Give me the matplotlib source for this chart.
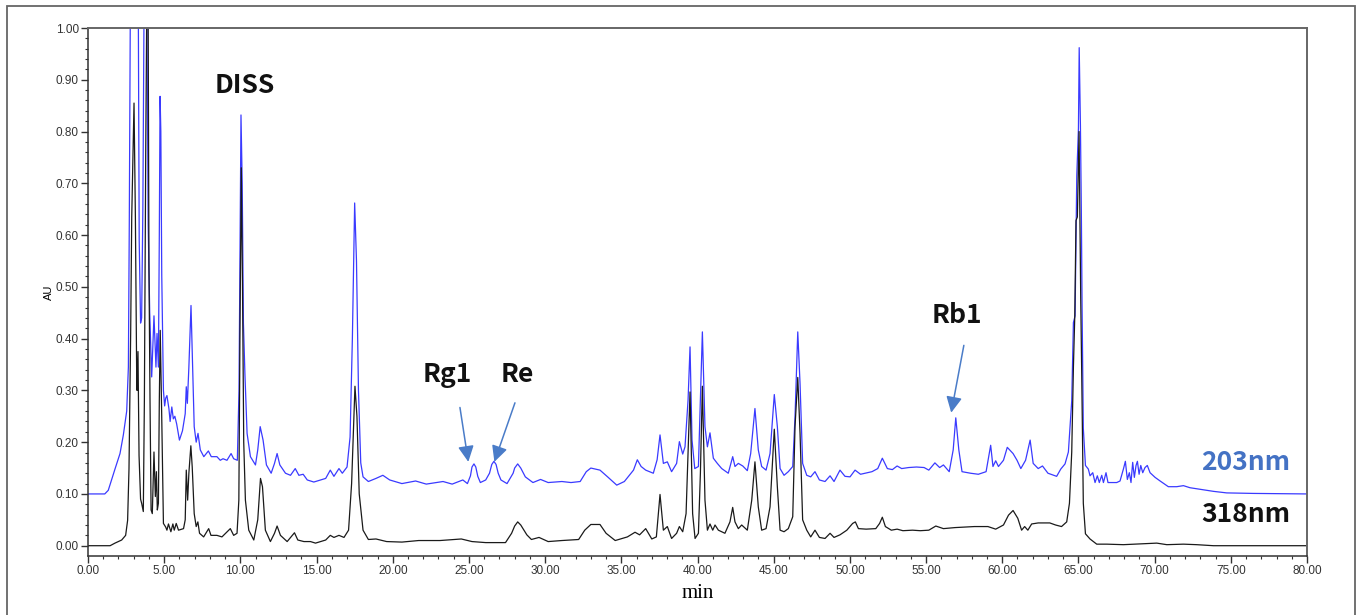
import matplotlib
matplotlib.use("Agg")
import matplotlib.pyplot as plt
from matplotlib.patches import Rectangle
from matplotlib.ticker import MultipleLocator, FormatStrFormatter

# 203 nm trace (blue)
t_203 = [0.0, 1.1, 1.33, 1.77, 2.10, 2.32, 2.54, 2.65, 2.71, 2.78, 3.30, 3.36, 3.45, 3.52, 3.60,
         3.68, 3.86, 3.95, 4.05, 4.18, 4.33, 4.46, 4.53, 4.62, 4.68, 4.73, 4.78, 4.84, 4.95, 5.03,
         5.10, 5.18, 5.31, 5.39, 5.50, 5.60, 5.70, 5.82, 6.00, 6.20, 6.38, 6.45, 6.52, 6.62, 6.76,
         6.87, 6.97, 7.10, 7.22, 7.37, 7.60, 7.90, 8.09, 8.46, 8.68, 8.86, 9.12, 9.39, 9.56, 9.80,
         9.91, 9.97, 10.04, 10.12, 10.20, 10.30, 10.44, 10.66, 10.99, 11.14, 11.30, 11.49, 11.71,
         12.02, 12.24, 12.41, 12.59, 12.96, 13.29, 13.60, 13.84, 14.12, 14.39, 14.82, 15.26, 15.60,
         15.90, 16.14, 16.47, 16.69, 17.00, 17.20, 17.35, 17.50, 17.62, 17.75, 17.90, 18.05, 18.40,
         18.90, 19.35, 19.80, 20.60, 21.50, 22.20, 23.30, 23.90, 24.60, 24.90, 25.10, 25.20, 25.33,
         25.45, 25.58, 25.75, 26.10, 26.35, 26.50, 26.64, 26.78, 26.92, 27.10, 27.50, 27.90, 28.00,
         28.20, 28.40, 28.70, 29.20, 29.70, 30.20, 31.10, 31.70, 32.30, 32.70,
         33.00, 33.60, 34.10, 34.70, 35.20, 35.80, 36.05, 36.30, 36.60, 37.10, 37.35, 37.54, 37.76,
         38.02, 38.30, 38.63, 38.81, 39.03, 39.18, 39.38, 39.51, 39.64, 39.82, 40.06, 40.19, 40.32,
         40.49, 40.65, 40.82, 41.04, 41.30, 41.59, 42.02, 42.31, 42.46, 42.68, 42.97, 43.27, 43.49,
         43.77, 43.99, 44.21, 44.50, 44.76, 45.04, 45.24, 45.42, 45.68, 45.96, 46.25, 46.40, 46.58,
         46.73, 46.90, 47.17, 47.43, 47.71, 48.00, 48.37, 48.70, 48.96, 49.35, 49.68, 50.01, 50.34,
         50.70, 51.45, 51.83, 52.13, 52.46, 52.79, 53.10, 53.40, 53.86, 54.37, 54.87, 55.18, 55.58,
         55.89, 56.14, 56.52, 56.78, 56.95, 57.15, 57.36, 57.92, 58.43, 58.94, 59.11, 59.24, 59.39,
         59.57, 59.75, 60.08, 60.33, 60.71, 60.97, 61.22, 61.53, 61.83, 62.03, 62.36, 62.64, 63.00,
         63.57, 63.84, 64.12, 64.34, 64.56, 64.67, 64.78, 64.89, 65.00, 65.05, 65.13, 65.19, 65.24,
         65.32, 65.46, 65.65, 65.76, 65.94, 66.09, 66.24, 66.37, 66.53, 66.64, 66.81, 66.94, 67.18,
         67.51, 67.73, 67.95, 68.08, 68.21, 68.34, 68.45, 68.56, 68.67, 68.78, 68.87, 68.98, 69.09,
         69.22, 69.37, 69.52, 69.70, 70.03, 70.36, 70.90, 71.45, 71.89, 72.32, 72.98, 73.86, 74.73,
         76.48, 80.00]
au_203 = [0.100, 0.100, 0.107, 0.148, 0.178, 0.214, 0.260, 0.345, 0.625, 1.05, 1.05, 0.59, 0.43,
          0.44, 0.65, 1.05, 1.05, 0.62, 0.45, 0.326, 0.444, 0.345, 0.41, 0.345, 0.60, 0.868, 0.80,
          0.523, 0.30, 0.27, 0.285, 0.29, 0.265, 0.24, 0.268, 0.245, 0.25, 0.235, 0.204, 0.222,
          0.255, 0.307, 0.275, 0.345, 0.464, 0.345, 0.23, 0.20, 0.217, 0.185, 0.172, 0.183, 0.172,
          0.172, 0.165, 0.168, 0.165, 0.178, 0.168, 0.165, 0.30, 0.55, 0.832, 0.70, 0.43, 0.33,
          0.217, 0.172, 0.156, 0.185, 0.23, 0.204, 0.156, 0.14, 0.159, 0.178, 0.156, 0.14, 0.136,
          0.149, 0.136, 0.138, 0.127, 0.123, 0.127, 0.13, 0.146, 0.134, 0.149, 0.14, 0.152, 0.21,
          0.40, 0.662, 0.55, 0.30, 0.16, 0.133, 0.124, 0.13, 0.136, 0.127, 0.12, 0.125, 0.119,
          0.124, 0.119, 0.127, 0.12, 0.135, 0.152, 0.158, 0.152, 0.134, 0.122, 0.127, 0.14, 0.157,
          0.163, 0.157, 0.14, 0.127, 0.12, 0.14, 0.15, 0.158, 0.15, 0.133,
          0.122, 0.128, 0.122, 0.124, 0.122, 0.124, 0.143, 0.15, 0.146, 0.133, 0.117, 0.124, 0.146,
          0.166, 0.153, 0.146, 0.14, 0.166, 0.214, 0.159, 0.162, 0.143, 0.159, 0.201, 0.177, 0.191,
          0.281, 0.384, 0.204, 0.149, 0.153, 0.281, 0.413, 0.23, 0.191, 0.218, 0.169, 0.159, 0.149,
          0.14, 0.172, 0.153, 0.159, 0.154, 0.145, 0.178, 0.265, 0.185, 0.153, 0.146, 0.178, 0.292,
          0.23, 0.149, 0.136, 0.143, 0.153, 0.249, 0.413, 0.313, 0.159, 0.136, 0.133, 0.143, 0.127,
          0.124, 0.135, 0.124, 0.146, 0.134, 0.133, 0.146, 0.138, 0.143, 0.149, 0.169, 0.149, 0.147,
          0.154, 0.149, 0.151, 0.152, 0.151, 0.146, 0.16, 0.151, 0.156, 0.143, 0.185, 0.247, 0.185,
          0.143, 0.14, 0.138, 0.143, 0.172, 0.194, 0.153, 0.164, 0.153, 0.165, 0.19, 0.178, 0.165,
          0.149, 0.165, 0.204, 0.159, 0.149, 0.154, 0.14, 0.134, 0.148, 0.158, 0.181, 0.28, 0.431,
          0.444, 0.714, 0.806, 0.962, 0.813, 0.648, 0.457, 0.227, 0.155, 0.148, 0.135, 0.141, 0.122,
          0.135, 0.122, 0.136, 0.122, 0.141, 0.122, 0.122, 0.122, 0.125, 0.148, 0.163, 0.128, 0.141,
          0.122, 0.161, 0.132, 0.155, 0.163, 0.138, 0.155, 0.141, 0.151, 0.155, 0.141, 0.132, 0.125,
          0.114, 0.114, 0.116, 0.112, 0.109, 0.105, 0.102, 0.101, 0.100]

# 318 nm trace (black)
t_318 = [0.0, 1.45, 1.77, 2.21, 2.47, 2.60, 2.69, 2.80, 2.87, 3.02, 3.11, 3.19, 3.22, 3.28, 3.35,
         3.45, 3.52, 3.63, 3.70, 3.79, 3.87, 3.94, 4.00, 4.07, 4.14, 4.22, 4.33, 4.42, 4.49, 4.55,
         4.62, 4.68, 4.74, 4.84, 4.95, 5.10, 5.18, 5.28, 5.44, 5.57, 5.66, 5.79, 5.94, 6.27, 6.38,
         6.45, 6.54, 6.62, 6.75, 6.84, 6.97, 7.10, 7.21, 7.32, 7.59, 7.92, 8.07, 8.46, 8.79, 9.34,
         9.56, 9.78, 9.90, 9.97, 10.06, 10.14, 10.22, 10.33, 10.55, 10.88, 11.14, 11.32, 11.45,
         11.64, 11.97, 12.24, 12.41, 12.63, 13.07, 13.55, 13.77, 14.17, 14.60, 14.93, 15.26, 15.60,
         15.90, 16.14, 16.47, 16.80, 17.10, 17.30, 17.52, 17.65, 17.80, 18.05, 18.40, 18.90, 19.60,
         20.60, 21.70, 23.10, 24.50, 25.20, 26.10, 27.40, 27.80, 28.00, 28.20, 28.40, 28.80, 29.10,
         29.60, 30.20, 31.10, 32.20, 32.60, 33.00, 33.60, 34.00, 34.60, 35.40, 35.90, 36.20, 36.60,
         37.00, 37.30,
         37.54, 37.76, 38.02, 38.30, 38.63, 38.81, 39.03, 39.25, 39.51, 39.68, 39.84, 40.06, 40.19,
         40.32, 40.49, 40.65, 40.82, 41.00, 41.15, 41.37, 41.80, 42.13, 42.31, 42.46, 42.68, 42.90,
         43.27, 43.56, 43.77, 43.99, 44.21, 44.50, 44.76, 45.04, 45.24, 45.42, 45.68, 45.96, 46.25,
         46.40, 46.58, 46.73, 46.90, 47.17, 47.43, 47.71, 48.00, 48.37, 48.70, 48.96, 49.35, 49.80,
         50.18, 50.36, 50.56, 51.07, 51.70, 51.95, 52.13, 52.33, 52.72, 53.10, 53.48, 54.11, 54.62,
         55.18, 55.64, 56.14, 56.90, 58.17, 59.06, 59.57, 60.08, 60.41, 60.71, 61.02, 61.27, 61.47,
         61.68, 61.93, 62.36, 63.12, 63.50, 63.89, 64.23, 64.41, 64.56, 64.67, 64.76, 64.84, 64.93,
         65.04, 65.10, 65.15, 65.21, 65.32, 65.46, 65.76, 66.20, 66.86, 67.95, 70.14, 70.80, 71.89,
         72.76, 73.86, 80.00]
au_318 = [0.0, 0.0, 0.005, 0.011, 0.02, 0.049, 0.148, 0.41, 0.635, 0.855, 0.635, 0.345, 0.30,
          0.375, 0.174, 0.09, 0.082, 0.066, 0.28, 0.766, 1.1, 1.1, 0.54, 0.28, 0.069, 0.062, 0.181,
          0.095, 0.143, 0.069, 0.082, 0.28, 0.416, 0.247, 0.043, 0.036, 0.030, 0.042, 0.027, 0.042,
          0.030, 0.043, 0.030, 0.033, 0.05, 0.146, 0.088, 0.14, 0.193, 0.152, 0.062, 0.037, 0.046,
          0.024, 0.017, 0.033, 0.02, 0.02, 0.017, 0.033, 0.02, 0.024, 0.088, 0.40, 0.73, 0.50, 0.20,
          0.088, 0.03, 0.011, 0.05, 0.13, 0.114, 0.03, 0.008, 0.024, 0.038, 0.02, 0.008, 0.025,
          0.011, 0.008, 0.008, 0.005, 0.008, 0.011, 0.02, 0.016, 0.02, 0.016, 0.03, 0.12, 0.308,
          0.25, 0.10, 0.03, 0.012, 0.013, 0.008, 0.007, 0.01, 0.01, 0.013, 0.008, 0.006, 0.006,
          0.024, 0.038, 0.046, 0.04, 0.021, 0.012, 0.016, 0.008, 0.01, 0.012, 0.03, 0.041, 0.041,
          0.024, 0.01, 0.017, 0.026, 0.021, 0.033, 0.013, 0.017, 0.099, 0.03, 0.037, 0.014, 0.024,
          0.037, 0.027,
          0.062, 0.297, 0.062, 0.014, 0.024, 0.14, 0.308, 0.088, 0.03, 0.042, 0.03, 0.04, 0.03,
          0.024, 0.046, 0.074, 0.046, 0.033, 0.04, 0.03, 0.088, 0.162, 0.075, 0.03, 0.033, 0.075,
          0.225, 0.114, 0.03, 0.027, 0.033, 0.056, 0.23, 0.325, 0.217, 0.05, 0.03, 0.017, 0.03,
          0.016, 0.014, 0.024, 0.016, 0.021, 0.03, 0.043, 0.046, 0.033, 0.032, 0.033, 0.043, 0.055,
          0.037, 0.03, 0.032, 0.029, 0.03, 0.029, 0.03, 0.038, 0.033, 0.035, 0.037, 0.037, 0.032,
          0.04, 0.059, 0.068, 0.053, 0.03, 0.037, 0.03, 0.042, 0.044, 0.044, 0.04, 0.037, 0.046,
          0.082, 0.181, 0.345, 0.444, 0.628, 0.635, 0.80, 0.62, 0.477, 0.345, 0.082, 0.023, 0.013,
          0.003, 0.003, 0.002, 0.005, 0.002, 0.003, 0.002, 0.0, 0.0]

# peak labels: (text, x, y) and arrows (tail x, tail y, head x, head y)
peak_names = ["DISS", "Rg1", "Re", "Rb1"]
peak_text_x = [10.3, 23.6, 28.15, 57.03]
peak_text_y = [0.874, 0.3166, 0.3166, 0.4305]
arrow_tail = [(24.41, 0.267), (28.02, 0.276), (57.48, 0.387)]
arrow_head = [(24.96, 0.162), (26.67, 0.162), (56.65, 0.257)]

label_font = ["Noto Sans CJK SC", "DejaVu Sans"]

fig = plt.figure(figsize=(13.57, 6.15), dpi=100)
fig.patches.append(Rectangle((7 / 1357, -0.02), 1348 / 1357, 1.02 - 6 / 615,
                             transform=fig.transFigure, fill=False,
                             edgecolor="#666666", lw=1.3))

ax = fig.add_axes([88 / 1357, 1 - 555.7 / 615, 1219 / 1357, (555.7 - 28) / 615])

ax.plot(t_203, au_203, color="#3a3aff", lw=0.9)
ax.plot(t_318, au_318, color="#1a1a1a", lw=0.9)

ax.set_xlim(0, 80)
ax.set_ylim(-0.0193, 1.0)

ax.xaxis.set_major_locator(MultipleLocator(5))
ax.xaxis.set_minor_locator(MultipleLocator(1))
ax.yaxis.set_major_locator(MultipleLocator(0.1))
ax.yaxis.set_minor_locator(MultipleLocator(0.02))
ax.xaxis.set_major_formatter(FormatStrFormatter("%.2f"))
ax.yaxis.set_major_formatter(FormatStrFormatter("%.2f"))
ax.tick_params(which="major", length=5, width=1, color="#333333", labelsize=8.5,
               labelcolor="#333333", pad=1.5)
ax.tick_params(which="minor", length=2.5, width=0.8, color="#333333")
for lab in ax.get_xticklabels() + ax.get_yticklabels():
    lab.set_family("Liberation Sans")

for side in ["left", "bottom"]:
    ax.spines[side].set_color("#333333")
    ax.spines[side].set_linewidth(1.1)
for side in ["top", "right"]:
    ax.spines[side].set_color("#666666")
    ax.spines[side].set_linewidth(1.4)

ax.set_ylabel("AU", fontsize=8, family="Liberation Sans", labelpad=1)
ax.set_xlabel("min", fontsize=15, family="Liberation Serif", labelpad=5)

for name, x, y in zip(peak_names, peak_text_x, peak_text_y):
    ax.text(x, y, name, fontsize=19, fontweight="bold", family=label_font,
            ha="center", va="baseline", color="#111111")

for (x0, y0), (x1, y1) in zip(arrow_tail, arrow_head):
    ax.annotate("", xy=(x1, y1), xytext=(x0, y0),
                arrowprops=dict(arrowstyle="-|>", color="#4a7cc8", lw=1.1,
                                mutation_scale=24, shrinkA=0, shrinkB=0))

ax.text(75.99, 0.146, "203nm", fontsize=19, fontweight="bold", family=label_font,
        ha="center", va="baseline", color="#4472c4")
ax.text(75.99, 0.0463, "318nm", fontsize=19, fontweight="bold", family=label_font,
        ha="center", va="baseline", color="#111111")

fig.savefig("out.png", dpi=100)
